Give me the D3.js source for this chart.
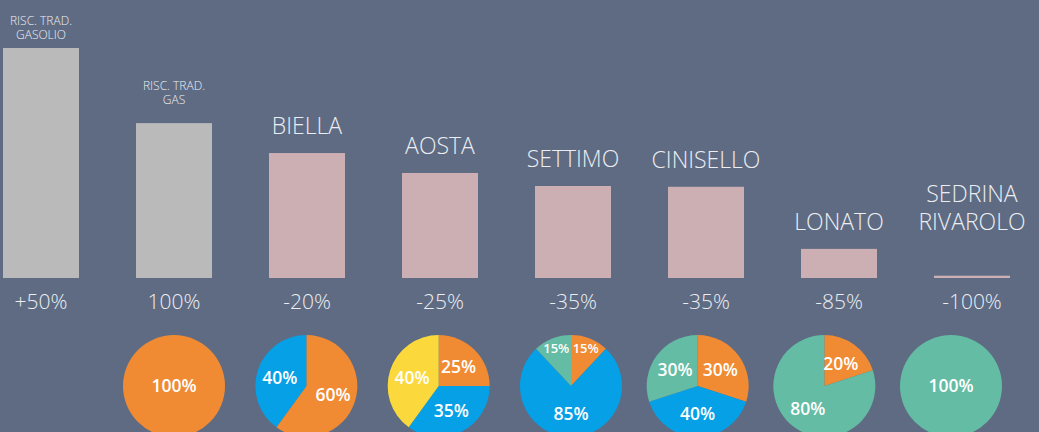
<!DOCTYPE html>
<html>
<head>
<meta charset="utf-8">
<script src="https://cdn.jsdelivr.net/npm/d3@7"></script>
<style>
    html, body { margin: 0; padding: 0; background: #5e6b83; }
    svg { display: block; }
    text { font-family: "Open Sans", sans-serif; fill: #eceef2; }
</style>
</head>
<body>
<div id="chart"></div>
<script>
"use strict";

// bars: traditional heating vs. sites
var categories = [
    ["RISC. TRAD.", "GASOLIO"],
    ["RISC. TRAD.", "GAS"],
    ["BIELLA"],
    ["AOSTA"],
    ["SETTIMO"],
    ["CINISELLO"],
    ["LONATO"],
    ["SEDRINA", "RIVAROLO"]
];
var barKind = ["trad", "trad", "site", "site", "site", "site", "site", "site"];
var barValues = [150, 101, 81.5, 68.5, 60, 59.5, 19, 1.5];
var changeLabels = ["+50%", "100%", "-20%", "-25%", "-35%", "-35%", "-85%", "-100%"];

// pies (one for each category from the second onward)
var pieShares = [[100], [60, 40], [25, 35, 40], [12, 76, 12], [30, 40, 30], [20, 80], [100]];
var pieSources = [["o"], ["o", "b"], ["o", "b", "y"], ["o", "b", "t"], ["o", "b", "t"], ["o", "t"], ["t"]];
var pieTexts = [["100%"], ["60%", "40%"], ["25%", "35%", "40%"], ["15%", "85%", "15%"],
    ["30%", "40%", "30%"], ["20%", "80%"], ["100%"]];

var sourceKeys = ["o", "b", "y", "t"];
var sourceColors = ["#f08a33", "#06a0e6", "#fbd93d", "#63bca3"];

(function () {
    var width = 1039,
        height = 432,
        baseY = 278,
        topY = 48,
        pieY = 386,
        pieR = 51,
        svg, x, y, xPie, color, bars, pie, arc, pies;

    svg = d3.select("#chart").append("svg")
        .attr("width", width)
        .attr("height", height);

    svg.append("rect")
        .attr("width", width).attr("height", height)
        .attr("fill", "#5e6b83");

    x = d3.scaleBand()
        .domain(d3.range(categories.length))
        .range([-25.5, 1038.5])
        .paddingInner(0.4286)
        .paddingOuter(0.2143);

    y = d3.scaleLinear().domain([0, 150]).range([baseY, topY]);

    xPie = d3.scaleLinear().domain([0, 3, 6]).range([174, 571, 951]);

    color = d3.scaleOrdinal().domain(sourceKeys).range(sourceColors);

    bars = svg.selectAll(".bar")
        .data(barValues).enter().append("g")
        .attr("class", "bar");

    bars.append("rect")
        .attr("x", function (d, i) { return x(i); })
        .attr("y", function (d) { return y(d); })
        .attr("width", x.bandwidth())
        .attr("height", function (d) { return baseY - y(d); })
        .attr("fill", function (d, i) {
            return barKind[i] === "trad" ? "#bbbaba" : "#cbafb2";
        });

    // change labels under the bars
    bars.append("text")
        .attr("x", function (d, i) { return x(i) + x.bandwidth() / 2; })
        .attr("y", 309)
        .attr("text-anchor", "middle")
        .style("font-size", "21px")
        .style("font-weight", 300)
        .text(function (d, i) { return changeLabels[i]; });

    // category names above the bars, one text per line
    bars.each(function (d, i) {
        var lines = categories[i],
            small = barKind[i] === "trad",
            lh = small ? 14 : 28,
            last = Math.min(Math.max(y(d) - 19, 39), 230),
            cx = x(i) + x.bandwidth() / 2;

        d3.select(this).selectAll(".name")
            .data(lines).enter().append("text")
            .attr("class", "name")
            .attr("x", cx)
            .attr("y", function (l, j) {
                return last - (lines.length - 1 - j) * lh;
            })
            .attr("text-anchor", "middle")
            .style("font-size", small ? "12px" : "23px")
            .style("font-weight", 300)
            .text(function (l) { return l; });
    });

    pie = d3.pie().sort(null).value(function (d) { return d; });
    arc = d3.arc().innerRadius(0).outerRadius(pieR);

    pies = svg.selectAll(".pie")
        .data(pieShares).enter().append("g")
        .attr("class", "pie")
        .attr("transform", function (d, i) {
            return "translate(" + xPie(i) + "," + pieY + ")";
        });

    pies.each(function (shares, i) {
        var g = d3.select(this),
            slices = pie(shares);

        g.selectAll("path")
            .data(slices).enter().append("path")
            .attr("d", arc)
            .attr("fill", function (s, j) { return color(pieSources[i][j]); });

        g.selectAll("text")
            .data(slices).enter().append("text")
            .attr("transform", function (s) {
                var lr, c;
                if (slices.length === 1) {
                    return "translate(0,0)";
                }
                lr = s.data < 15 ? 40 : 28;
                c = d3.arc().innerRadius(lr).outerRadius(lr).centroid(s);
                return "translate(" + c[0] + "," + c[1] + ")";
            })
            .attr("dy", "0.36em")
            .attr("text-anchor", "middle")
            .style("font-size", function (s) { return s.data < 15 ? "13px" : "17.5px"; })
            .style("font-weight", 600)
            .style("fill", "#ffffff")
            .text(function (s, j) { return pieTexts[i][j]; });
    });
}());
</script>
</body>
</html>
